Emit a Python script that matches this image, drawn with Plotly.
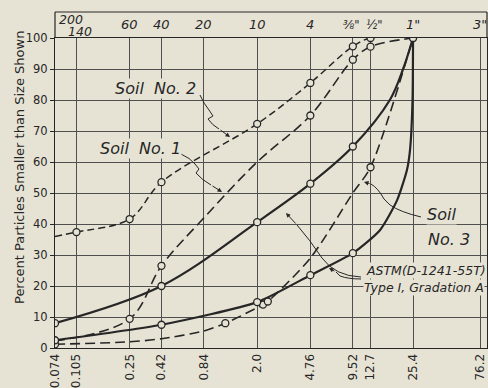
import numpy as np
import plotly.graph_objects as go

# ---------------- data ----------------
sieve_mm = [0.074, 0.105, 0.25, 0.42, 0.84, 2.0, 4.76, 9.52, 12.7, 25.4, 76.2]
sieve_mm_labels = ["0.074", "0.105", "0.25", "0.42", "0.84", "2.0", "4.76", "9.52", "12.7", "25.4", "76.2"]
sieve_no_labels = ["200", "140", "60", "40", "20", "10", "4", "⅜\"", "½\"", "1\"", "3\""]
pct_ticks = [0, 10, 20, 30, 40, 50, 60, 70, 80, 90, 100]

soil2_mm = [0.074, 0.105, 0.25, 0.42, 2.0, 4.76, 9.52, 12.7, 25.4]
soil2_pct = [36, 37.4, 41.6, 53.5, 72.3, 85.5, 97.3, 100, 100]
soil2_marked = [0, 1, 1, 1, 1, 1, 1, 1, 1]

soil1_mm = [0.074, 0.25, 0.42, 0.84, 2.0, 4.76, 9.52, 12.7, 25.4]
soil1_pct = [2.3, 9.4, 26.5, 42, 60, 75, 93, 97.2, 100]
soil1_marked = [0, 1, 1, 0, 0, 1, 1, 1, 0]

soil3_mm = [0.074, 0.25, 0.42, 0.84, 1.19, 2.2, 2.38, 4.76, 9.52, 12.7, 25.4]
soil3_pct = [1.2, 2.0, 3.0, 5.5, 8.0, 14.0, 15.0, 29, 50, 58.3, 100]
soil3_marked = [1, 0, 0, 0, 1, 1, 1, 0, 0, 1, 0]

astm_upper_mm = [0.074, 0.42, 2.0, 4.76, 9.52, 17.4, 21.6, 25.4]
astm_upper_pct = [8, 20, 40.6, 53, 65, 80, 90, 100]
astm_upper_marked = [1, 1, 1, 1, 1, 0, 0, 1]

astm_lower_mm = [0.074, 0.42, 2.0, 4.76, 9.52, 14.8, 19.6, 23.0, 24.2, 25.2, 25.4]
astm_lower_pct = [2.5, 7.5, 14.8, 23.5, 30.6, 38, 47.7, 57.4, 64, 80, 100]
astm_lower_marked = [1, 1, 1, 1, 1, 0, 0, 0, 0, 0, 0]

# ---------------- style ----------------
BG = "#e6e3d5"
INK = "#262626"
GRID = "#4f4f4f"
FONT = "DejaVu Sans"

W, H = 488, 388
ML, MR, MT, MB = 55, 1, 38, 40
PW, PH = W - ML - MR, H - MT - MB


def P(px, py):
    """pixel -> paper coordinates"""
    return (px - ML) / PW, (H - MB - py) / PH


fig = go.Figure()

curves = [
    (soil2_mm, soil2_pct, soil2_marked, dict(dash="7px,4px", width=1.5), 1.0),
    (soil1_mm, soil1_pct, soil1_marked, dict(dash="10px,5px", width=1.6), 1.0),
    (soil3_mm, soil3_pct, soil3_marked, dict(dash="10px,5px", width=1.6), 0.8),
    (astm_upper_mm, astm_upper_pct, astm_upper_marked, dict(dash="solid", width=2.2), 1.0),
    (astm_lower_mm, astm_lower_pct, astm_lower_marked, dict(dash="solid", width=2.2), 0.6),
]
for xs, ys, mk, ln, sm in curves:
    fig.add_trace(go.Scatter(x=xs, y=ys, mode="lines",
                             line=dict(color=INK, shape="spline", smoothing=sm, **ln),
                             hoverinfo="skip"))
for xs, ys, mk, ln, sm in curves:
    mx = [x for x, m in zip(xs, mk) if m]
    my = [y for y, m in zip(ys, mk) if m]
    fig.add_trace(go.Scatter(x=mx, y=my, mode="markers",
                             marker=dict(symbol="circle", size=7, color=BG,
                                         line=dict(color=INK, width=1.3)),
                             hoverinfo="skip"))

x_right = np.log10(0.074) + PW / 141.2

fig.update_layout(
    width=W, height=H, margin=dict(l=ML, r=MR, t=MT, b=MB, autoexpand=False),
    paper_bgcolor=BG, plot_bgcolor=BG, showlegend=False,
    font=dict(family=FONT, color=INK),
)
fig.update_xaxes(type="log", range=[np.log10(0.074), x_right],
                 tickvals=sieve_mm, ticktext=sieve_mm_labels, tickangle=-90,
                 tickfont=dict(size=12, color=INK, family=FONT),
                 showgrid=True, gridcolor=GRID, gridwidth=1,
                 showline=True, linecolor=INK, linewidth=1.2, mirror=True,
                 ticks="", zeroline=False)
fig.update_yaxes(range=[0, 100], tickvals=pct_ticks,
                 tickfont=dict(size=11.5, color=INK, family=FONT),
                 ticks="outside", ticklen=4, tickcolor=INK,
                 showgrid=True, gridcolor=GRID, gridwidth=1,
                 showline=True, linecolor=INK, linewidth=1.2, mirror=True,
                 zeroline=False)

# frame extension above 100 %
ytop = P(0, 12)[1]
for x0, y0, x1, y1 in [(0, 1, 0, ytop), (1, 1, 1, ytop), (0, ytop, 1, ytop)]:
    fig.add_shape(type="line", xref="paper", yref="paper", x0=x0, y0=y0, x1=x1, y1=y1,
                  line=dict(color=INK, width=1.2))

# top sieve number labels
top_pos = {"200": (0.074, 19, "left", 2, 12.5), "140": (0.105, 31.5, "center", 4, 12.5),
           "⅜\"": (9.52, 25, "center", -2, 11.5), "½\"": (12.7, 25, "center", 3, 11.5)}
for mm, lab in zip(sieve_mm, sieve_no_labels):
    xm, py, anc, xs, fs = top_pos.get(lab, (mm, 25, "center", 0, 13))
    fig.add_annotation(x=np.log10(xm), y=P(0, py)[1], xref="x", yref="paper",
                       text="<i>%s</i>" % lab, showarrow=False, xanchor=anc, yanchor="middle",
                       xshift=xs, font=dict(size=fs, family=FONT, color=INK))

# y-axis title
tx, ty = P(19, 168)
fig.add_annotation(x=tx, y=ty, xref="paper", yref="paper", textangle=-90,
                   xanchor="center", yanchor="middle",
                   text="Percent Particles Smaller than Size Shown", showarrow=False,
                   font=dict(size=13, family=FONT, color=INK))

# in-plot labels
labels = [
    ("<i>Soil  No. 2</i>", 155, 88, "center", 16),
    ("<i>Soil  No. 1</i>", 140, 148, "center", 16),
    ("<i>Soil</i>", 426, 214, "left", 16),
    ("<i>No. 3</i>", 427, 239, "left", 16),
    ("<i>ASTM(D-1241-55T)</i>", 365, 270, "left", 12.5),
    ("<i>Type I, Gradation A</i>", 363, 287, "left", 12.5),
]
for t, px, py, anc, fs in labels:
    x, y = P(px, py)
    fig.add_annotation(x=x, y=y, xref="paper", yref="paper", text=t, showarrow=False,
                       xanchor=anc, yanchor="middle", bgcolor=BG, borderpad=0,
                       font=dict(size=fs, family=FONT, color=INK))


def path(pts):
    s = ""
    for cmd, *coords in pts:
        s += " " + cmd
        for px, py in coords:
            x, y = P(px, py)
            s += " %.4f %.4f" % (x, y)
    return s.strip()


leaders = [
    [("M", (200, 95)), ("Q", (204, 104), (209, 110)), ("L", (213, 116)), ("L", (208, 119)),
     ("Q", (212, 125), (219, 129))],
    [("M", (181, 154)), ("Q", (190, 158), (195, 164)), ("L", (199, 169)), ("L", (196, 173)),
     ("Q", (202, 180), (211, 185))],
    [("M", (421, 217)), ("Q", (400, 212), (390, 205)), ("L", (384, 199)),
     ("Q", (378, 188), (371, 184))],
    [("M", (361, 277)), ("Q", (335, 276), (322, 258)), ("Q", (310, 240), (297, 225))],
    [("M", (361, 279)), ("Q", (348, 279), (340, 276)), ("L", (336, 272))],
]
for lp in leaders:
    fig.add_shape(type="path", xref="paper", yref="paper", path=path(lp),
                  line=dict(color=INK, width=1))

arrows = [((230, 137), (219, 129)), ((222, 192), (211, 185)), ((364, 182), (371, 184)),
          ((286, 213), (297, 225)), ((329, 268), (336, 272))]
for (tx, ty), (sx, sy) in arrows:
    x, y = P(tx, ty)
    fig.add_annotation(x=x, y=y, xref="paper", yref="paper", text="", showarrow=True,
                       ax=sx - tx, ay=sy - ty, arrowhead=2, arrowsize=0.9, arrowwidth=1,
                       arrowcolor=INK)

fig.write_html("out.html", config={"displayModeBar": False},
               post_script="document.body.style.margin='0px';")
